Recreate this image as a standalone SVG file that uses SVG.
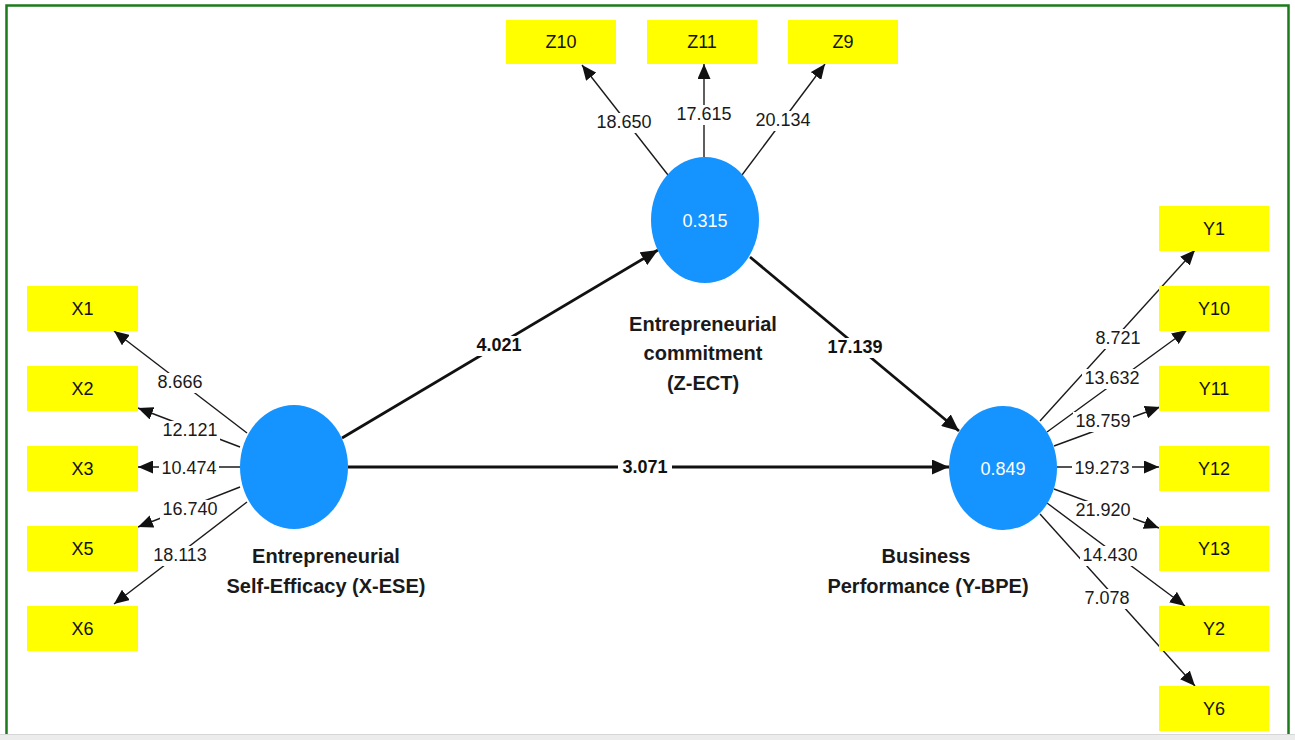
<svg xmlns="http://www.w3.org/2000/svg" width="1295" height="740" viewBox="0 0 1295 740">
<style>
.ind rect{fill:#ffff00}
.ind text{font-family:"Liberation Sans",Arial,sans-serif;font-size:18px;fill:#111;text-anchor:middle}
.lv ellipse{fill:#1593ff}
.lv text.r2{font-family:"Liberation Sans",Arial,sans-serif;font-size:18px;fill:#fff;text-anchor:middle}
.name{font-family:"Liberation Sans",Arial,sans-serif;font-size:20px;font-weight:bold;fill:#1a1a1a;text-anchor:middle}
.ld{stroke:#1a1a1a;stroke-width:1.4;fill:none;marker-end:url(#ah)}
.pc{stroke:#111;stroke-width:2.8;fill:none;marker-end:url(#ahb)}
.bg{fill:#fff}
.lt{font-family:"Liberation Sans",Arial,sans-serif;font-size:18px;fill:#1a1a1a;text-anchor:middle}
.pt{font-family:"Liberation Sans",Arial,sans-serif;font-size:18px;font-weight:bold;fill:#111;text-anchor:middle}
</style>
<defs>
<marker id="ah" markerUnits="userSpaceOnUse" markerWidth="15" markerHeight="13" refX="15" refY="6.5" orient="auto"><path d="M0,0 L15,6.5 L0,13 z" fill="#111"/></marker>
<marker id="ahb" markerUnits="userSpaceOnUse" markerWidth="17" markerHeight="15" refX="17" refY="7.5" orient="auto"><path d="M0,0 L17,7.5 L0,15 z" fill="#111"/></marker>
</defs>
<rect x="0" y="0" width="1295" height="740" fill="#fff"/>
<rect x="6.5" y="5.5" width="1282" height="740" fill="none" stroke="#1b7a1b" stroke-width="2.5"/>
<rect x="0" y="734" width="1295" height="6" fill="#ececec"/>
<line x1="0" y1="734.5" x2="1295" y2="734.5" stroke="#d6d6d6" stroke-width="1"/>

<g id="connectors">
<path class="ld" d="M247,433 L114,331"/>
<path class="ld" d="M240,447 L138,408"/>
<path class="ld" d="M240,467 L138,467"/>
<path class="ld" d="M240,487 L138,527"/>
<path class="ld" d="M247,502 L114,604"/>
<path class="ld" d="M668,175 L582,65"/>
<path class="ld" d="M704,157 L704,64"/>
<path class="ld" d="M742,175 L825,64"/>
<path class="ld" d="M1040,421 L1195,250"/>
<path class="ld" d="M1047,432 L1187,330"/>
<path class="ld" d="M1054,446 L1160,407"/>
<path class="ld" d="M1057,467 L1159,467"/>
<path class="ld" d="M1054,489 L1159,528"/>
<path class="ld" d="M1047,503 L1185,606"/>
<path class="ld" d="M1040,514 L1195,686"/>
<path class="pc" d="M342,438 L658,250"/>
<path class="pc" d="M750,257 L959,431"/>
<path class="pc" d="M348,467 L949,467"/>
<rect class="bg" x="155" y="373" width="51" height="20"/><text class="lt" x="180" y="388">8.666</text>
<rect class="bg" x="160" y="421" width="60" height="20"/><text class="lt" x="190" y="436">12.121</text>
<rect class="bg" x="159" y="459" width="60" height="20"/><text class="lt" x="189" y="474">10.474</text>
<rect class="bg" x="160" y="500" width="60" height="20"/><text class="lt" x="190" y="515">16.740</text>
<rect class="bg" x="150" y="546" width="60" height="20"/><text class="lt" x="180" y="561">18.113</text>
<rect class="bg" x="594" y="113" width="60" height="20"/><text class="lt" x="624" y="128">18.650</text>
<rect class="bg" x="674" y="105" width="60" height="20"/><text class="lt" x="704" y="120">17.615</text>
<rect class="bg" x="753" y="111" width="60" height="20"/><text class="lt" x="783" y="126">20.134</text>
<rect class="bg" x="1093" y="329" width="51" height="20"/><text class="lt" x="1118" y="344">8.721</text>
<rect class="bg" x="1082" y="369" width="60" height="20"/><text class="lt" x="1112" y="384">13.632</text>
<rect class="bg" x="1073" y="412" width="60" height="20"/><text class="lt" x="1103" y="427">18.759</text>
<rect class="bg" x="1072" y="459" width="60" height="20"/><text class="lt" x="1102" y="474">19.273</text>
<rect class="bg" x="1073" y="501" width="60" height="20"/><text class="lt" x="1103" y="516">21.920</text>
<rect class="bg" x="1080" y="546" width="60" height="20"/><text class="lt" x="1110" y="561">14.430</text>
<rect class="bg" x="1082" y="589" width="51" height="20"/><text class="lt" x="1107" y="604">7.078</text>
<rect class="bg" x="472" y="336" width="54" height="20"/><text class="pt" x="499" y="351">4.021</text>
<rect class="bg" x="823" y="338" width="64" height="20"/><text class="pt" x="855" y="353">17.139</text>
<rect class="bg" x="618" y="458" width="54" height="20"/><text class="pt" x="645" y="473">3.071</text>
</g>

<g id="X1" class="ind"><rect x="27" y="286" width="111" height="45"/><text x="82.5" y="315">X1</text></g>
<g id="X2" class="ind"><rect x="27" y="366" width="111" height="45"/><text x="82.5" y="395">X2</text></g>
<g id="X3" class="ind"><rect x="27" y="446" width="111" height="45"/><text x="82.5" y="475">X3</text></g>
<g id="X5" class="ind"><rect x="27" y="526" width="111" height="45"/><text x="82.5" y="555">X5</text></g>
<g id="X6" class="ind"><rect x="27" y="606" width="111" height="45"/><text x="82.5" y="635">X6</text></g>

<g id="Z10" class="ind"><rect x="506" y="20" width="110" height="44"/><text x="561" y="48">Z10</text></g>
<g id="Z11" class="ind"><rect x="647" y="20" width="110" height="44"/><text x="702" y="48">Z11</text></g>
<g id="Z9" class="ind"><rect x="788" y="20" width="110" height="44"/><text x="843" y="48">Z9</text></g>

<g id="Y1" class="ind"><rect x="1159" y="206" width="110" height="45"/><text x="1214" y="235">Y1</text></g>
<g id="Y10" class="ind"><rect x="1159" y="286" width="110" height="45"/><text x="1214" y="315">Y10</text></g>
<g id="Y11" class="ind"><rect x="1159" y="366" width="110" height="45"/><text x="1214" y="395">Y11</text></g>
<g id="Y12" class="ind"><rect x="1159" y="446" width="110" height="45"/><text x="1214" y="475">Y12</text></g>
<g id="Y13" class="ind"><rect x="1159" y="526" width="110" height="45"/><text x="1214" y="555">Y13</text></g>
<g id="Y2" class="ind"><rect x="1159" y="606" width="110" height="45"/><text x="1214" y="635">Y2</text></g>
<g id="Y6" class="ind"><rect x="1159" y="686" width="110" height="45"/><text x="1214" y="715">Y6</text></g>

<g id="X-ESE" class="lv">
<ellipse cx="294" cy="467" rx="54" ry="62"/>
<text class="name" x="326" y="563">Entrepreneurial</text>
<text class="name" x="326" y="593">Self-Efficacy (X-ESE)</text>
</g>
<g id="Z-ECT" class="lv">
<ellipse cx="705" cy="220" rx="54" ry="63"/>
<text class="r2" x="705" y="227">0.315</text>
<text class="name" x="703" y="331">Entrepreneurial</text>
<text class="name" x="703" y="360">commitment</text>
<text class="name" x="703" y="390">(Z-ECT)</text>
</g>
<g id="Y-BPE" class="lv">
<ellipse cx="1003" cy="468" rx="54" ry="62"/>
<text class="r2" x="1003" y="475">0.849</text>
<text class="name" x="926" y="563">Business</text>
<text class="name" x="928" y="593">Performance (Y-BPE)</text>
</g>
</svg>
